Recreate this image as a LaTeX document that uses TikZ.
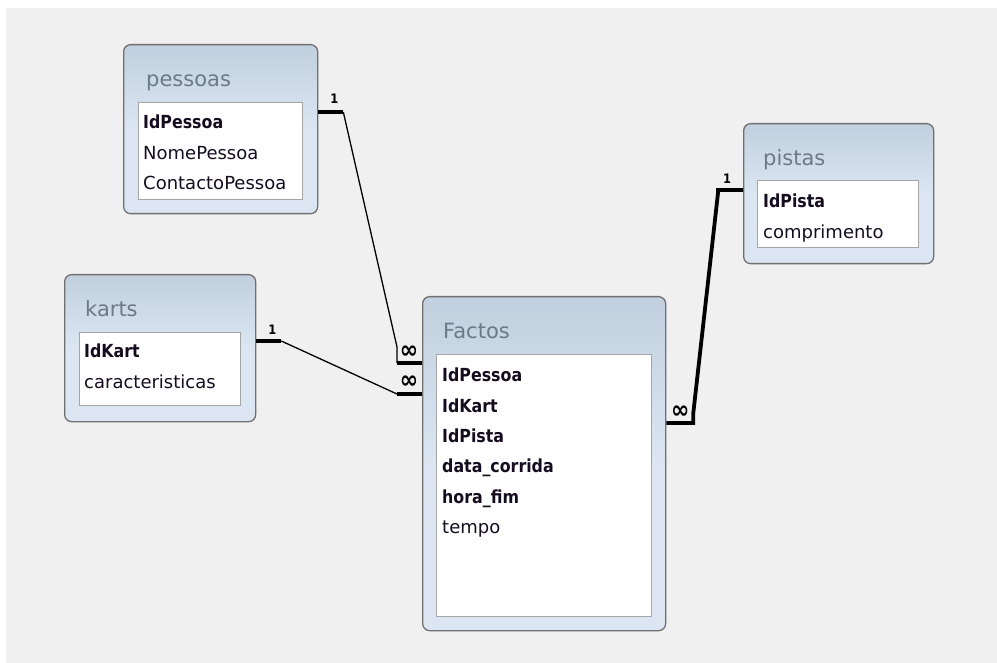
\documentclass[tikz,border=0pt]{standalone}
\usepackage{fontspec}
\setmainfont{DejaVu Sans}[BoldFeatures={FakeStretch=0.88}]
\usetikzlibrary{positioning, calc}
\definecolor{panel}{RGB}{240,240,240}
\definecolor{tblline}{RGB}{112,112,112}
\definecolor{tbltop}{RGB}{193,207,222}
\definecolor{tblbot}{RGB}{219,230,242}
\definecolor{ttlgray}{RGB}{108,121,137}
\definecolor{fldline}{RGB}{165,165,165}
\definecolor{fldtext}{RGB}{22,12,32}

\tikzset{
  tbl/.style={draw=tblline, line width=1.3pt, rounded corners=7pt, top color=tbltop,
    bottom color=tblbot, middle color=tblbot, anchor=north west, inner sep=0pt},
  ttl/.style={text=ttlgray, anchor=base west, inner sep=0pt, font=\fontsize{21}{21}\selectfont},
  fldbox/.style={draw=fldline, line width=1.2pt, fill=white, anchor=north west, inner sep=0pt},
  fields/.style={text=fldtext, anchor=north west, inner sep=0pt, align=left,
    font=\fontsize{18}{30.3}\selectfont},
  relthick/.style={line width=3.8pt},
  relthin/.style={line width=1.3pt},
  one/.style={inner sep=0pt, font=\bfseries\fontsize{13}{13}\selectfont},
  many/.style={inner sep=0pt, font=\bfseries\fontsize{25}{25}\selectfont}
}

\begin{document}
\begin{tikzpicture}[x=1pt, y=-1pt]
  \useasboundingbox (0,0) rectangle (997,663);
  \fill[white] (0,0) rectangle (997,663);
  \fill[panel] (6,8) rectangle (997,663);

  % tables
  \node[tbl, minimum width=194, minimum height=169] (pessoas) at (123,44) {};
  \node[ttl] (pessoasT) at ($(pessoas.north west)+(23,43)$) {pessoas};
  \node[fldbox, minimum width=164, minimum height=97] (pessoasF) at ($(pessoas.north west)+(15,58)$) {};
  \node[fields] (pessoasL) at ($(pessoasF.north west)+(5,13)$) {\textbf{IdPessoa}\\NomePessoa\\ContactoPessoa};

  \node[tbl, minimum width=191, minimum height=147] (karts) at (64,274) {};
  \node[ttl] (kartsT) at ($(karts.north west)+(21,43)$) {karts};
  \node[fldbox, minimum width=161, minimum height=73] (kartsF) at ($(karts.north west)+(15,58)$) {};
  \node[fields] (kartsL) at ($(kartsF.north west)+(5,12)$) {\textbf{IdKart}\\caracteristicas};

  \node[tbl, minimum width=243, minimum height=334] (factos) at (422,296) {};
  \node[ttl] (factosT) at ($(factos.north west)+(21,43)$) {Factos};
  \node[fldbox, minimum width=215, minimum height=262] (factosF) at ($(factos.north west)+(14,58)$) {};
  \node[fields] (factosL) at ($(factosF.north west)+(6,14)$)
    {\textbf{IdPessoa}\\\textbf{IdKart}\\\textbf{IdPista}\\\textbf{data\_corrida}\\\textbf{hora\_fim}\\tempo};

  \node[tbl, minimum width=190, minimum height=140] (pistas) at (743,123) {};
  \node[ttl] (pistasT) at ($(pistas.north west)+(20,43)$) {pistas};
  \node[fldbox, minimum width=161, minimum height=67] (pistasF) at ($(pistas.north west)+(14,57)$) {};
  \node[fields] (pistasL) at ($(pistasF.north west)+(6,14)$) {\textbf{IdPista}\\comprimento};

  % relationship end points
  \coordinate (p1) at ($(pessoas.north east)+(0,68)$);
  \coordinate (k1) at ($(karts.north east)+(0,67)$);
  \coordinate (s1) at ($(pistas.north west)+(0,67)$);
  \coordinate (f1) at ($(factos.north west)+(0,67)$);
  \coordinate (f2) at ($(factos.north west)+(0,98)$);
  \coordinate (f3) at ($(factos.north east)+(0,127)$);

  % pessoas -> Factos
  \draw[relthick] (p1) -- ++(25,0) coordinate (p1b);
  \draw[relthick] (f1) -- ++(-25,0) coordinate (f1b);
  \draw[relthin] (p1b) -- ($(f1b)+(0,-16)$) -- (f1b);
  \node[one] (p1n) at ($(p1b)+(-9,-13)$) {1};
  \node[many] (f1n) at ($(f1b)+(12,-11)$) {∞};

  % karts -> Factos
  \draw[relthick] (k1) -- ++(25,0) coordinate (k1b);
  \draw[relthick] (f2) -- ++(-25,0) coordinate (f2b);
  \draw[relthin] (k1b) -- (f2b);
  \node[one] (k1n) at ($(k1b)+(-9,-11)$) {1};
  \node[many] (f2n) at ($(f2b)+(12,-12)$) {∞};

  % pistas -> Factos
  \draw[relthick] (s1) -- ++(-25,0) -- ++(0,3) -- ($(f3)+(27,-10)$) -- ++(0,10) -- (f3);
  \node[one] (s1n) at ($(s1)+(-16,-11)$) {1};
  \node[many] (f3n) at ($(f3)+(14,-11)$) {∞};
\end{tikzpicture}
\end{document}
